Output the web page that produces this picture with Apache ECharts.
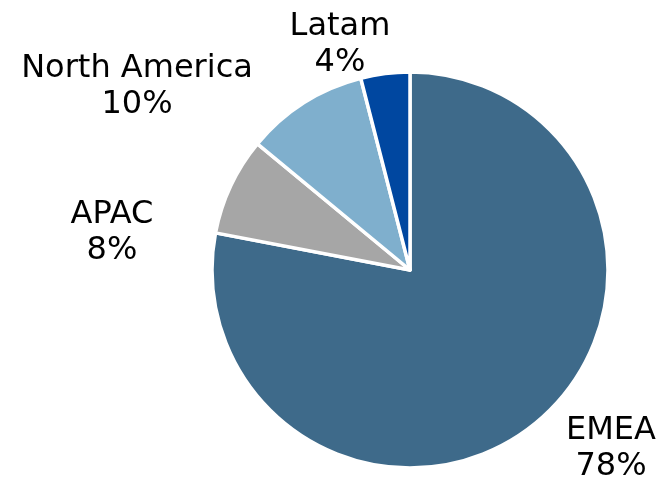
<!DOCTYPE html>
<html>
<head>
<meta charset="utf-8">
<script src="https://cdn.jsdelivr.net/npm/echarts@6/dist/echarts.min.js"></script>
<style>
  html, body { margin: 0; padding: 0; background: #ffffff; }
  #chart { width: 657px; height: 479px; }
</style>
</head>
<body>
<div id="chart"></div>
<script>
// Revenue share by region
const regions = ['EMEA', 'APAC', 'North America', 'Latam'];
const shares = [78, 8, 10, 4];
const sliceColors = ['#3E6A8A', '#A6A6A6', '#7FAFCD', '#0047A0'];

// Label anchor points (centre of each two-line label)
const labelAnchors = [[611, 449], [112, 233], [137, 87], [340, 45]];

const chart = echarts.init(document.getElementById('chart'), null, { renderer: 'canvas' });

chart.setOption({
  backgroundColor: '#ffffff',
  animation: false,
  series: [{
    type: 'pie',
    center: [410, 270],
    radius: [0, 198],
    startAngle: 90,
    clockwise: true,
    avoidLabelOverlap: false,
    itemStyle: { borderColor: '#ffffff', borderWidth: 3.5 },
    label: {
      show: true,
      position: 'outside',
      formatter: p => p.name + '\n' + p.value + '%',
      fontFamily: 'DejaVu Sans',
      fontSize: 32,
      lineHeight: 36,
      color: '#000000',
      align: 'center'
    },
    labelLine: { show: false },
    labelLayout: p => ({
      x: labelAnchors[p.dataIndex][0],
      y: labelAnchors[p.dataIndex][1],
      align: 'center',
      verticalAlign: 'middle'
    }),
    data: regions.map((r, i) => ({
      name: r,
      value: shares[i],
      itemStyle: { color: sliceColors[i] }
    }))
  }]
});
</script>
</body>
</html>
